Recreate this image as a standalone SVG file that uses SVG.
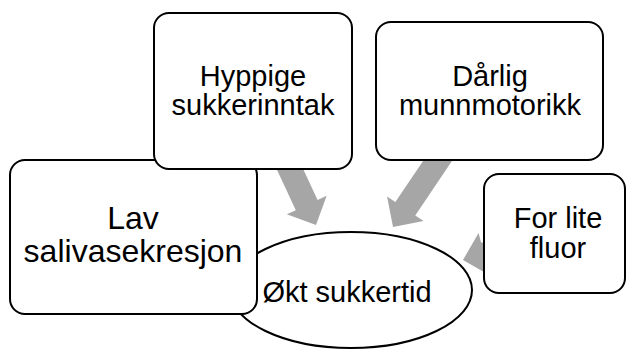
<svg xmlns="http://www.w3.org/2000/svg" width="627" height="349" viewBox="0 0 627 349">
<defs>
<style>
.box{fill:#fff;stroke:#000;stroke-width:2}
.ell{fill:#fff;stroke:#000;stroke-width:2}
.arr{fill:#a6a6a6;stroke:none}
.t{font-family:"Liberation Sans",Arial,sans-serif;font-size:29px;fill:#000;text-anchor:middle}
.tl{font-size:32px}
</style>
<polygon id="blk" points="0,0 -22,-22 -22,-12 -90,-12 -90,12 -22,12 -22,22"/>
</defs>
<rect width="627" height="349" fill="#fff"/>
<g id="connectors">
<use href="#blk" class="arr" transform="translate(316,225) rotate(65)"/>
<use href="#blk" class="arr" transform="translate(393,227) rotate(124)"/>
<use href="#blk" class="arr" transform="translate(463,260) rotate(165)"/>
</g>
<g id="center">
<ellipse class="ell" cx="351" cy="290" rx="121" ry="58"/>
<text class="t" x="347" y="302">Økt sukkertid</text>
</g>
<g id="lav">
<rect class="box" x="10" y="160" width="247" height="154" rx="15"/>
<text class="t tl" x="133" y="229">Lav</text>
<text class="t tl" x="133" y="262">salivasekresjon</text>
</g>
<g id="hyppige">
<rect class="box" x="154" y="13" width="198" height="156" rx="15"/>
<text class="t" x="253" y="86">Hyppige</text>
<text class="t" x="253" y="115">sukkerinntak</text>
</g>
<g id="darlig">
<rect class="box" x="376" y="22" width="227" height="138" rx="15"/>
<text class="t" x="490" y="86">Dårlig</text>
<text class="t" x="490" y="115">munnmotorikk</text>
</g>
<g id="forlite">
<rect class="box" x="484" y="174" width="141" height="119" rx="15"/>
<text class="t" x="558" y="228">For lite</text>
<text class="t" x="558" y="258">fluor</text>
</g>
</svg>
